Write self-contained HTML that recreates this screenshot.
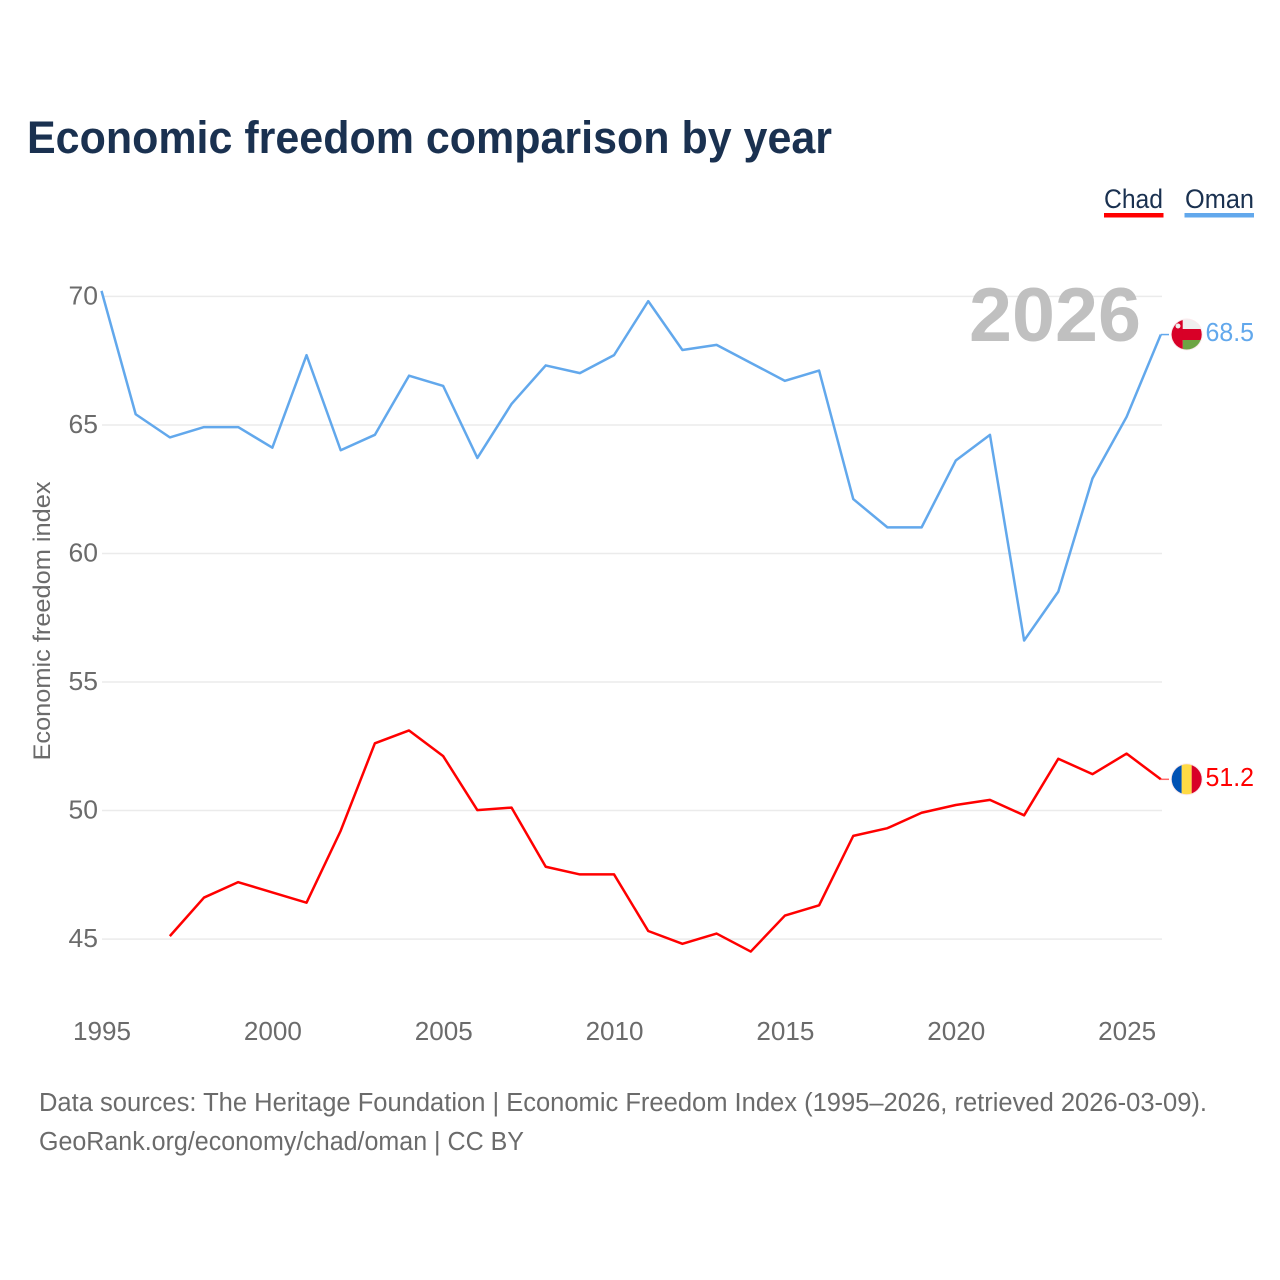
<!DOCTYPE html>
<html lang="en">
<head>
<meta charset="utf-8">
<title>Economic freedom comparison by year</title>
<style>
html,body{margin:0;padding:0;background:#fff;width:1280px;height:1280px;overflow:hidden}
svg{display:block}
text{font-family:"Liberation Sans",Arial,sans-serif}
</style>
</head>
<body>
<svg id="chart" xmlns="http://www.w3.org/2000/svg" width="1280" height="1280" viewBox="0 0 1280 1280">
  <rect width="1280" height="1280" fill="#fff"/>
  <text x="27" y="153" font-size="45" font-weight="700" fill="#1a3150" textLength="805" lengthAdjust="spacingAndGlyphs">Economic freedom comparison by year</text>

  <g>
    <text x="1104" y="208" font-size="27" fill="#1a3150" textLength="59" lengthAdjust="spacingAndGlyphs">Chad</text>
    <rect x="1104" y="213" width="59.500" height="4.500" fill="#ff0000"/>
  </g>
  <g>
    <text x="1185" y="208" font-size="27" fill="#1a3150" textLength="69" lengthAdjust="spacingAndGlyphs">Oman</text>
    <rect x="1184.500" y="213" width="69.500" height="4.500" fill="#62a8ec"/>
  </g>

  <g id="grid"></g>
  <text x="1141" y="341" font-size="76" font-weight="700" fill="#c0c0c0" text-anchor="end" textLength="172" lengthAdjust="spacingAndGlyphs">2026</text>
  <g id="y-labels"></g>
  <g id="x-labels"></g>
  <text transform="translate(50,621) rotate(-90)" font-size="24.500" fill="#6b6b6b" text-anchor="middle" textLength="279" lengthAdjust="spacingAndGlyphs">Economic freedom index</text>

  <g id="series"></g>

  <defs>
    <clipPath id="flag-clip-oman"><circle cx="1186.700" cy="334.500" r="15"/></clipPath>
    <clipPath id="flag-clip-chad"><circle cx="1186.700" cy="779.300" r="15"/></clipPath>
  </defs>
  <circle cx="1186.700" cy="334.500" r="16" fill="#fbe9ec"/>
  <g clip-path="url(#flag-clip-oman)">
    <rect x="1171" y="319" width="32" height="31" fill="#efefef"/>
    <rect x="1171" y="329" width="32" height="11" fill="#d80027"/>
    <rect x="1182.700" y="340" width="20" height="11" fill="#6da544"/>
    <rect x="1171" y="319" width="11.700" height="32" fill="#d80027"/>
    <circle cx="1178" cy="326" r="2.500" fill="#efefef"/>
  </g>
  <circle cx="1186.700" cy="779.300" r="16" fill="#fbe9ec"/>
  <g clip-path="url(#flag-clip-chad)">
    <rect x="1171" y="764" width="10.700" height="31" fill="#0052b4"/>
    <rect x="1181.700" y="764" width="10" height="31" fill="#ffda44"/>
    <rect x="1191.700" y="764" width="11" height="31" fill="#d80027"/>
  </g>
  <text x="1205.500" y="341" font-size="25.500" fill="#62a8ec" textLength="48.500" lengthAdjust="spacingAndGlyphs">68.5</text>
  <text x="1205.500" y="786" font-size="25.500" fill="#ff0000" textLength="48.500" lengthAdjust="spacingAndGlyphs">51.2</text>

  <text x="39" y="1111" font-size="25.500" fill="#6b6b6b" textLength="1168" lengthAdjust="spacingAndGlyphs">Data sources: The Heritage Foundation | Economic Freedom Index (1995–2026, retrieved 2026-03-09).</text>
  <text x="39" y="1150" font-size="25.500" fill="#6b6b6b" textLength="485" lengthAdjust="spacingAndGlyphs">GeoRank.org/economy/chad/oman | CC BY</text>
</svg>
<script>
const years = [1995,1996,1997,1998,1999,2000,2001,2002,2003,2004,2005,2006,2007,2008,2009,2010,2011,2012,2013,2014,2015,2016,2017,2018,2019,2020,2021,2022,2023,2024,2025,2026];
const omanValues = [70.2,65.4,64.5,64.9,64.9,64.1,67.7,64.0,64.6,66.9,66.5,63.7,65.8,67.3,67.0,67.7,69.8,67.9,68.1,67.4,66.7,67.1,62.1,61.0,61.0,63.6,64.6,56.6,58.5,62.9,65.3,68.5];
const chadValues = [null,null,45.1,46.6,47.2,46.8,46.4,49.2,52.6,53.1,52.1,50.0,50.1,47.8,47.5,47.5,45.3,44.8,45.2,44.5,45.9,46.3,49.0,49.3,49.9,50.2,50.4,49.8,52.0,51.4,52.2,51.2];
const yTicks = [45,50,55,60,65,70];
const xTicks = [1995,2000,2005,2010,2015,2020,2025];

const SVG_NS = 'http://www.w3.org/2000/svg';
function xScale(year){ return 101.5 + (year - 1995) * (1160.8 - 101.5) / 31; }
function yScale(value){ return 296 + (70 - value) * (938.7 - 296) / 25; }
function make(tag, attrs, parent){
  const el = document.createElementNS(SVG_NS, tag);
  for (const k in attrs) el.setAttribute(k, attrs[k]);
  parent.appendChild(el);
  return el;
}

const gridGroup = document.getElementById('grid');
const yGroup = document.getElementById('y-labels');
const xGroup = document.getElementById('x-labels');
const seriesGroup = document.getElementById('series');

yTicks.forEach(function(t){
  const line = make('line', {x1:102, x2:1162, y1:yScale(t) + 0.4, y2:yScale(t) + 0.4, stroke:'#ebebeb', 'stroke-width':1.5}, gridGroup);
  
  
  const label = make('text', {x:98, y:yScale(t) + 8.5, 'font-size':25.5, fill:'#6b6b6b', 'text-anchor':'end', textLength:29.5, lengthAdjust:'spacingAndGlyphs'}, yGroup);
  label.textContent = String(t);
  
  
});

xTicks.forEach(function(t){
  const label = make('text', {x:xScale(t) + 0.5, y:1040, 'font-size':25.5, fill:'#6b6b6b', 'text-anchor':'middle', textLength:58, lengthAdjust:'spacingAndGlyphs'}, xGroup);
  label.textContent = String(t);
  
  
});

function linePath(values){
  let d = '';
  values.forEach(function(v, i){
    if (v === null) return;
    d += (d ? 'L' : 'M') + xScale(years[i]).toFixed(2) + ' ' + yScale(v).toFixed(2);
  });
  return d;
}
function leader(values){
  const y = yScale(values[values.length - 1]);
  return 'M' + xScale(2026).toFixed(2) + ' ' + y.toFixed(2) + 'L1169 ' + y.toFixed(2);
}

const omanLine = make('path', {d:linePath(omanValues), fill:'none', stroke:'#62a8ec', 'stroke-width':2.5, 'stroke-linejoin':'round'}, seriesGroup);



const omanLeader = make('path', {d:leader(omanValues), fill:'none', stroke:'#62a8ec', 'stroke-width':1.5}, seriesGroup);



const chadLine = make('path', {d:linePath(chadValues), fill:'none', stroke:'#ff0000', 'stroke-width':2.5, 'stroke-linejoin':'round'}, seriesGroup);



const chadLeader = make('path', {d:leader(chadValues), fill:'none', stroke:'#ff0000', 'stroke-width':1.5, 'stroke-opacity':0.6}, seriesGroup);


</script>
</body>
</html>
